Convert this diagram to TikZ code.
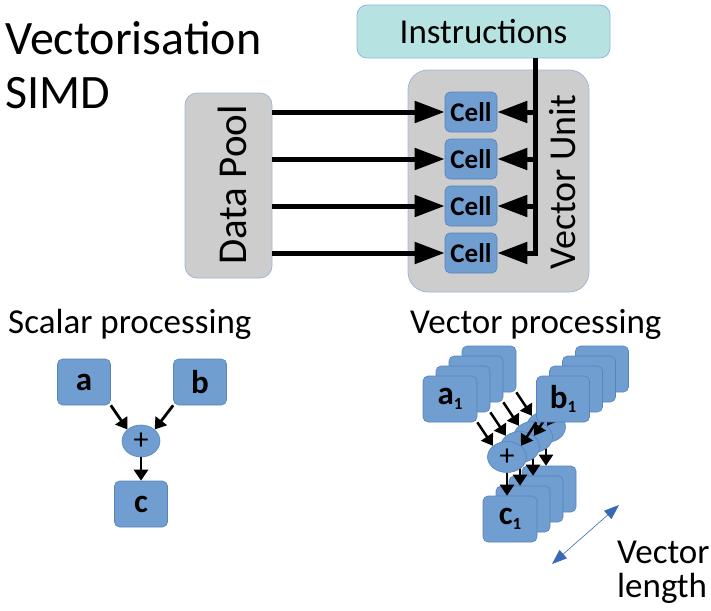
\documentclass[tikz,border=0pt]{standalone}
\usepackage{fontspec}
\setmainfont{Carlito}
\usetikzlibrary{arrows.meta,shapes.geometric}
\definecolor{cellblue}{RGB}{112,158,208}
\definecolor{cellborder}{RGB}{88,132,188}
\definecolor{unitgray}{RGB}{205,205,205}
\definecolor{unitborder}{RGB}{160,182,215}
\definecolor{instrfill}{RGB}{183,226,226}
\definecolor{instrborder}{RGB}{140,185,225}
\definecolor{lenblue}{RGB}{55,105,180}
\newcommand{\subone}{\raisebox{-0.3ex}{\fontsize{17}{17}\selectfont 1}}
\begin{document}
\begin{tikzpicture}[x=1pt,y=-1pt,
  graybox/.style={draw=unitborder, fill=unitgray, line width=0.8pt, inner sep=0pt},
  cellbox/.style={draw=cellborder, fill=cellblue, line width=0.6pt, rounded corners=5pt, inner sep=0pt,
                  minimum width=52pt, minimum height=40pt, font=\fontsize{27}{27}\selectfont\bfseries},
  opbox/.style={draw=cellborder, fill=cellblue, line width=0.6pt, rounded corners=5pt, inner sep=0pt,
                minimum width=53pt, minimum height=46pt, font=\fontsize{33}{33}\selectfont\bfseries},
  opell/.style={draw=cellborder, fill=cellblue, line width=0.6pt, ellipse, inner sep=0pt,
                minimum width=38pt, minimum height=32pt, font=\fontsize{30}{30}\selectfont},
  bigarrow/.style={line width=5pt, -{Triangle[length=30pt,width=21pt]}},
  busline/.style={line width=5pt},
  smallarrow/.style={line width=2.8pt, -{Triangle[length=11pt,width=14pt]}},
  lenarrow/.style={draw=lenblue, line width=0.6pt, {Triangle[length=15pt,width=11pt]}-{Triangle[length=15pt,width=11pt]}},
  bigtitle/.style={anchor=base west, inner sep=0pt, font=\fontsize{48}{48}\selectfont},
  midtitle/.style={anchor=base west, inner sep=0pt, font=\fontsize{35}{35}\selectfont}
]
\useasboundingbox (0,0) rectangle (711,610);

% titles
\node[bigtitle] (t1) at (5,55) {Vectorisation};
\node[bigtitle] (t2) at (5,108) {SIMD};

% top section
\node[graybox, fill=instrfill, draw=instrborder, rounded corners=10pt, minimum width=253pt, minimum height=53pt,
      font=\fontsize{35}{35}\selectfont] (instr) at (483.5,31.5) {Instructions};
\node[graybox, rounded corners=20pt, minimum width=181pt, minimum height=222pt] (unit) at (498.5,181) {};
\node[inner sep=0pt, rotate=90, font=\fontsize{38}{38}\selectfont] (unitlbl) at (563,182) {Vector Unit};
\node[graybox, rounded corners=12pt, minimum width=87pt, minimum height=185pt] (pool) at (228.5,185.5) {};
\node[inner sep=0pt, rotate=90, font=\fontsize{41}{41}\selectfont] (poollbl) at (232,185) {Data Pool};

\foreach \i/\yy in {1/112,2/159,3/206,4/253}{
  \node[cellbox] (cell\i) at (471,\yy) {Cell};
}
\coordinate (busx) at (535,0);
\draw[busline] (instr.south -| busx) -- ([yshift=-2.5pt]busx |- cell4.east);
\foreach \i in {1,2,3,4}{
  \draw[bigarrow] (pool.east |- cell\i.west) -- (cell\i.west);
  \draw[bigarrow] ([xshift=2.5pt]busx |- cell\i.east) -- (cell\i.east);
}

% scalar processing
\node[midtitle] (stitle) at (8,333) {Scalar processing};
\node[opbox] (sa) at (84,382) {a};
\node[opbox] (sb) at (200,382) {b};
\node[opell] (sp) at (141,441) {+};
\node[opbox] (sc) at (141,504) {c};
\draw[smallarrow] (sa.south east) -- (sp.north west);
\draw[smallarrow] (sb.south west) -- (sp.north east);
\draw[smallarrow] (sp.south) -- (sc.north);

% vector processing
\node[midtitle] (vtitle) at (410,333) {Vector processing};
\foreach \k in {3,2,1}{
  \begin{scope}[shift={(13*\k,-10*\k)}]
    \node[opbox, minimum width=54pt] (va\k) at (450,399) {};
    \node[opbox, minimum width=53pt] (vb\k) at (563,399) {};
    \node[opbox, minimum width=54pt] (vc\k) at (510,519) {};
    \node[opell, minimum width=39pt, minimum height=31pt] (vp\k) at (507,457) {};
    \draw[smallarrow, line width=2.5pt] (va\k.south east) -- (vp\k.north west);
    \draw[smallarrow, line width=2.5pt] (vb\k.south west) -- (vp\k.north east);
    \draw[smallarrow, line width=2.5pt] (vp\k.south) -- (vp\k.south |- vc\k.north);
  \end{scope}
}
\node[opbox, minimum width=54pt] (va0) at (450,399) {a\subone};
\node[opbox, minimum width=53pt] (vb0) at (563,399) {b\subone};
\node[opbox, minimum width=54pt] (vc0) at (510,519) {c\subone};
\node[opell, minimum width=39pt, minimum height=31pt] (vp0) at (507,457) {+};
\draw[smallarrow, line width=2.5pt] (va0.south east) -- (vp0.north west);
\draw[smallarrow, line width=2.5pt] (vb0.south west) -- (vp0.north east);
\draw[smallarrow, line width=2.5pt] (vp0.south) -- (vp0.south |- vc0.north);

% vector length
\coordinate (vl1) at (552,564);
\coordinate (vl2) at (619,505);
\draw[lenarrow] (vl1) -- (vl2);
\node[midtitle] (len1) at (617,563) {Vector};
\node[midtitle] (len2) at (617,597) {length};
\end{tikzpicture}
\end{document}
